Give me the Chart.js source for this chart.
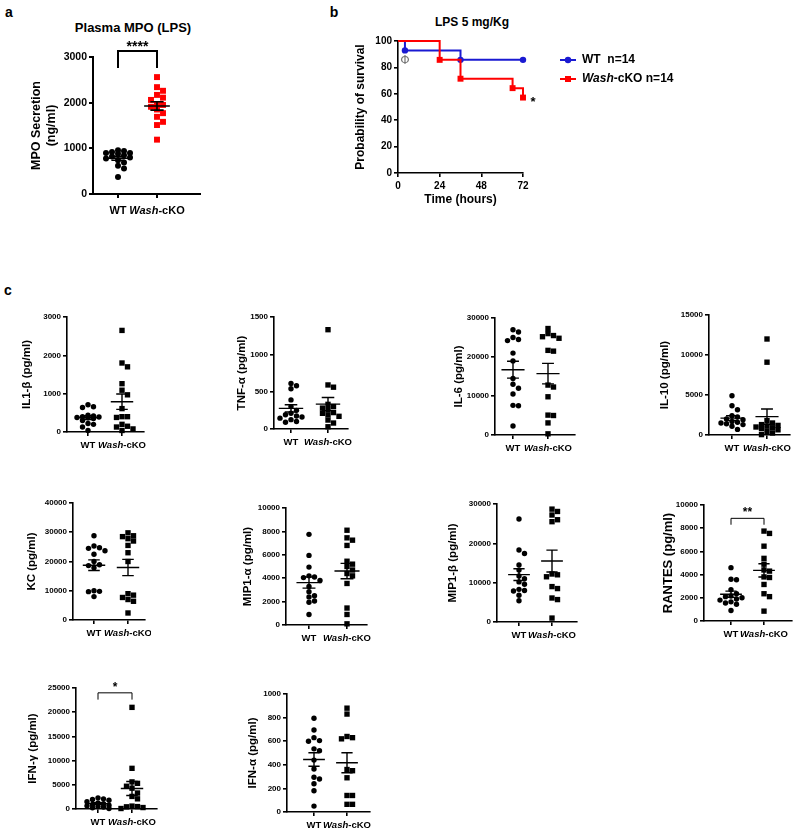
<!DOCTYPE html>
<html>
<head>
<meta charset="utf-8">
<script src="https://cdn.jsdelivr.net/npm/chart.js@4.4.1/dist/chart.umd.min.js"></script>
<style>
  body { margin: 0; background: #fff; width: 798px; height: 829px; position: relative; overflow: hidden;
         font-family: "Liberation Sans", Arial, sans-serif; font-weight: bold; color: #000; }
  canvas { position: absolute; }
  .t { position: absolute; transform: translate(-50%, -50%); white-space: nowrap; }
</style>
</head>
<body>
<div class="t" style="left:9px;top:12px;font-size:14px">a</div>
<div class="t" style="left:334px;top:12px;font-size:14px">b</div>
<div class="t" style="left:8px;top:290px;font-size:14px">c</div>
<div class="t" style="left:133px;top:27px;font-size:13px">Plasma MPO (LPS)</div>
<div class="t" style="left:472px;top:22px;font-size:12px">LPS 5 mg/Kg</div>
<script>
const groups = ['WT', 'Wash-cKO'];

// a - plasma MPO (ng/ml)
const mpoWT = [960, 940, 920, 900, 900, 880, 850, 820, 800, 780, 740, 690, 620, 560, 370];
const mpoKO = [2560, 2340, 2260, 2170, 2110, 2060, 1970, 1950, 1910, 1850, 1770, 1690, 1580, 1510, 1190];

// b - survival after LPS
const timeTicks = [0, 24, 48, 72];
const wtHours = [0, 4, 36, 72];
const wtSurvival = [100, 92.86, 85.71, 85.71];
const koHours = [0, 24, 36, 66, 72];
const koSurvival = [100, 85.71, 71.43, 64.29, 57.14];

// c - cytokines (pg/ml)
const il1bWT = [710, 660, 640, 440, 420, 400, 390, 380, 370, 350, 300, 220, 200, 130, 40];
const il1bKO = [2650, 1800, 1700, 1260, 1090, 970, 610, 400, 400, 380, 200, 150, 130, 80, 40];
const tnfWT = [610, 580, 540, 390, 300, 250, 210, 190, 175, 160, 145, 125, 100, 90];
const tnfKO = [1330, 590, 560, 330, 300, 280, 260, 220, 210, 190, 170, 120, 80, 30];
const il6WT = [27000, 26400, 25000, 24500, 24200, 21000, 19000, 14500, 13000, 12000, 10500, 7600, 7500, 2300];
const il6KO = [27300, 26000, 25500, 25200, 24800, 21700, 21500, 12800, 12300, 9800, 5100, 5000, 3100, 300];
const il10WT = [4900, 3650, 3150, 2400, 2250, 2000, 1900, 1700, 1600, 1500, 1400, 1300, 1100, 700];
const il10KO = [12000, 9100, 1800, 1500, 1300, 1200, 1100, 1000, 900, 800, 650, 450, 250, 50];
const kcWT = [28800, 25300, 24700, 24500, 23700, 22500, 20000, 18900, 18600, 17900, 10000, 9800, 9700, 8000];
const kcKO = [29800, 28800, 28500, 27800, 27000, 25500, 23000, 20000, 9000, 8500, 7700, 7000, 6400, 2400];
const mip1aWT = [7750, 5950, 4950, 4200, 4100, 4050, 3800, 3300, 2850, 2500, 2400, 2050, 1950, 900];
const mip1aKO = [8100, 7450, 7250, 6800, 5450, 5200, 5000, 4700, 4400, 4200, 3550, 1450, 900, 100];
const mip1bWT = [26200, 18300, 17400, 14500, 13200, 11700, 11000, 10200, 9600, 8300, 8000, 7900, 6800, 5400];
const mip1bKO = [28700, 28100, 27200, 26000, 25500, 12200, 12000, 11500, 9000, 8500, 6100, 5700, 1000];
const rantesWT = [4600, 3600, 3550, 2700, 2350, 2150, 2100, 2000, 1900, 1800, 1650, 1550, 1450, 900];
const rantesKO = [7750, 7550, 6450, 5400, 4900, 4400, 4300, 3800, 3750, 3150, 2350, 2100, 850];
const ifngWT = [2300, 2100, 1950, 1800, 1500, 1250, 1100, 950, 800, 650, 500, 400, 250, 100];
const ifngKO = [21000, 8400, 5600, 5300, 4700, 4300, 3300, 2600, 2100, 600, 500, 450, 300, 100];
const ifnaWT = [795, 695, 630, 605, 600, 535, 520, 440, 365, 295, 280, 240, 180, 50];
const ifnaKO = [880, 830, 640, 630, 620, 360, 350, 290, 140, 140, 65, 65];

const FONT = '"Liberation Sans", Arial, sans-serif';
const RED = '#ff0000';
const BLUE = '#1a1ad2';
Chart.defaults.font.family = FONT;

// spread points sideways (dot plot), kept inside a limited band
function swarm(vals, pxPerVal, unitPx, d) {
  const order = vals.map((v, i) => i).sort((a, b) => vals[b] - vals[a]);
  const placed = [];
  const xs = new Array(vals.length).fill(0);
  const maxK = Math.floor(0.4 * unitPx / d);
  order.forEach(i => {
    const y = vals[i] * pxPerVal;
    let best = null, bestGap = -1;
    for (let k = 0; k <= maxK * 2; k++) {
      const off = (k % 2 ? 1 : -1) * Math.ceil(k / 2) * d;
      const gap = placed.reduce((g, p) => Math.min(g, Math.hypot(p.x - off, p.y - y)), Infinity);
      if (gap >= d * 0.9) { best = off; break; }
      if (gap > bestGap) { bestGap = gap; best = off; }
    }
    placed.push({ x: best, y });
    xs[i] = best / unitPx;
  });
  return xs;
}

function stats(v) {
  const n = v.length;
  const m = v.reduce((a, b) => a + b, 0) / n;
  const sd = Math.sqrt(v.reduce((a, b) => a + (b - m) ** 2, 0) / (n - 1));
  return { m, se: sd / Math.sqrt(n) };
}

function drawGroupLabels(ctx, x, yy, fs) {
  const [a, b] = groups[1].split('-');
  ctx.fillStyle = '#000';
  ctx.textBaseline = 'middle';
  ctx.textAlign = 'center';
  ctx.font = `bold ${fs}px ${FONT}`;
  ctx.fillText(groups[0], x.getPixelForValue(0), yy);
  const it = `italic bold ${fs}px ${FONT}`, rg = `bold ${fs}px ${FONT}`;
  ctx.font = it; const w1 = ctx.measureText(a).width;
  ctx.font = rg; const w2 = ctx.measureText('-' + b).width;
  const sx = x.getPixelForValue(1) - (w1 + w2) / 2;
  ctx.textAlign = 'left';
  ctx.font = it; ctx.fillText(a, sx, yy);
  ctx.font = rg; ctx.fillText('-' + b, sx + w1, yy);
}

function dotChart(p) {
  const [ax, top, right, bottom] = p.box;
  const PT = 30, XH = p.xh || 26, YW = ax - p.left, PR = 6;
  const cv = document.createElement('canvas');
  cv.width = right - ax + YW + PR;
  cv.height = bottom - top + PT + XH;
  cv.style.left = p.left + 'px';
  cv.style.top = (top - PT) + 'px';
  document.body.appendChild(cv);

  const unit = p.cols[1] - p.cols[0];
  const xmin = -(p.cols[0] - ax) / unit;
  const xmax = 1 + (right - p.cols[1]) / unit;
  const pxv = (bottom - top) / p.max;
  const d = p.dot || 5.5;
  const jw = swarm(p.wt, pxv, unit, d);
  const jk = swarm(p.ko, pxv, unit, d);
  const lw = p.lw || 1.4;
  const tfs = p.titleSize || 11.5;
  const lh = tfs * 1.2;
  const axisStyle = { color: '#000', width: p.axisW || 1.6 };
  const gridStyle = { drawOnChartArea: false, color: '#000', lineWidth: p.axisW || 1.6, tickLength: 4 };

  new Chart(cv, {
    type: 'scatter',
    data: {
      datasets: [
        { data: p.wt.map((v, i) => ({ x: jw[i], y: v })), pointStyle: 'circle', pointRadius: p.rc || 2.7,
          backgroundColor: p.wtColor || '#000', borderWidth: 0, clip: false },
        { data: p.ko.map((v, i) => ({ x: 1 + jk[i], y: v })), pointStyle: 'rect', pointRadius: p.rs || 3.8,
          backgroundColor: p.koColor || '#000', borderWidth: 0, clip: false }
      ]
    },
    options: {
      responsive: false,
      animation: false,
      layout: { padding: { left: 0, top: PT, right: PR, bottom: 0 } },
      plugins: { legend: { display: false }, tooltip: { enabled: false } },
      scales: {
        x: {
          type: 'linear', min: xmin, max: xmax,
          afterBuildTicks: s => { s.ticks = [{ value: 0 }, { value: 1 }]; },
          ticks: { display: false },
          grid: gridStyle, border: axisStyle,
          afterFit: s => { s.height = XH; }
        },
        y: {
          min: 0, max: p.max,
          ticks: { stepSize: p.step, color: '#000', padding: 2, callback: v => v,
                   font: { size: p.tickSize || 8, weight: 'bold' } },
          grid: gridStyle, border: axisStyle,
          title: { display: true, text: p.title, color: '#000', font: { size: tfs, weight: 'bold', lineHeight: 1.2 },
                   padding: { top: (p.titleX - p.left) - lh / 2, bottom: 0 } },
          afterFit: s => { s.width = YW; }
        }
      }
    },
    plugins: [{
      id: 'extras',
      afterDatasetsDraw(chart) {
        const { ctx, scales: { x, y }, chartArea } = chart;
        ctx.save();
        ctx.strokeStyle = '#000';
        ctx.lineWidth = lw;
        [p.wt, p.ko].forEach((v, g) => {
          const s = stats(v);
          const cx = x.getPixelForValue(g);
          const w1 = x.getPixelForValue(g + 0.33) - cx;
          const w2 = x.getPixelForValue(g + 0.17) - cx;
          const ym = y.getPixelForValue(s.m), yh = y.getPixelForValue(s.m + s.se), yl = y.getPixelForValue(s.m - s.se);
          ctx.beginPath();
          ctx.moveTo(cx - w1, ym); ctx.lineTo(cx + w1, ym);
          ctx.moveTo(cx, yl); ctx.lineTo(cx, yh);
          ctx.moveTo(cx - w2, yh); ctx.lineTo(cx + w2, yh);
          ctx.moveTo(cx - w2, yl); ctx.lineTo(cx + w2, yl);
          ctx.stroke();
        });
        if (p.sig) {
          const x0 = x.getPixelForValue(0), x1 = x.getPixelForValue(1);
          const yb = y.getPixelForValue(p.sig.y), yl = y.getPixelForValue(p.sig.leg);
          ctx.lineWidth = p.sig.lw || 1;
          ctx.beginPath();
          ctx.moveTo(x0, yl); ctx.lineTo(x0, yb); ctx.lineTo(x1, yb); ctx.lineTo(x1, yl);
          ctx.stroke();
          ctx.fillStyle = '#000';
          ctx.font = `bold ${p.sig.size || 13}px ${FONT}`;
          ctx.textAlign = 'center';
          ctx.textBaseline = 'alphabetic';
          ctx.fillText(p.sig.text, (x0 + x1) / 2, yb - 2 + (p.sig.dy || 0));
        }
        drawGroupLabels(ctx, x, chartArea.bottom + (p.labelGap || 13), p.labelSize || 9.5);
        ctx.restore();
      }
    }]
  });
}

// panel a
dotChart({
  title: ['MPO Secretion', '(ng/ml)'], titleX: 37, titleSize: 12.5, left: 20,
  wt: mpoWT, ko: mpoKO, max: 3000, step: 1000, tickSize: 10.5,
  box: [93, 57, 200, 194], cols: [118, 157], xh: 30, labelGap: 17, labelSize: 11,
  koColor: RED, rc: 3, rs: 4.2, dot: 6, axisW: 2, lw: 1.6,
  sig: { text: '****', y: 3130, leg: 2760, lw: 2, size: 14, dy: 2 }
});

// panel c
const cPanels = [
  { title: 'IL1-β (pg/ml)', wt: il1bWT, ko: il1bKO, max: 3000, step: 1000, box: [67, 317, 144, 432], cols: [88, 122], titleX: 27 },
  { title: 'TNF-α (pg/ml)', wt: tnfWT, ko: tnfKO, max: 1500, step: 500, box: [274, 317, 348, 429], cols: [291, 328], titleX: 242 },
  { title: 'IL-6 (pg/ml)', wt: il6WT, ko: il6KO, max: 30000, step: 10000, box: [495, 318, 575, 435], cols: [513, 548], titleX: 459 },
  { title: 'IL-10 (pg/ml)', wt: il10WT, ko: il10KO, max: 15000, step: 5000, box: [709, 315, 790, 435], cols: [732, 767], titleX: 665 },
  { title: 'KC (pg/ml)', wt: kcWT, ko: kcKO, max: 40000, step: 10000, box: [73, 503, 145, 620], cols: [94, 128], titleX: 32 },
  { title: 'MIP1-α (pg/ml)', wt: mip1aWT, ko: mip1aKO, max: 10000, step: 2000, box: [286, 508, 367, 625], cols: [309, 347], titleX: 248 },
  { title: 'MIP1-β (pg/ml)', wt: mip1bWT, ko: mip1bKO, max: 30000, step: 10000, box: [497, 504, 577, 622], cols: [519, 552], titleX: 453 },
  { title: 'RANTES (pg/ml)', wt: rantesWT, ko: rantesKO, max: 10000, step: 2000, box: [704, 505, 792, 621], cols: [731, 764], titleX: 668,
    titleSize: 13, sig: { text: '**', y: 8850, leg: 8300, size: 12 } },
  { title: 'IFN-γ (pg/ml)', wt: ifngWT, ko: ifngKO, max: 25000, step: 5000, box: [76, 688, 157, 809], cols: [98, 132], titleX: 33,
    sig: { text: '*', y: 24000, leg: 22600, size: 12 } },
  { title: 'IFN-α (pg/ml)', wt: ifnaWT, ko: ifnaKO, max: 1000, step: 200, box: [287, 694, 370, 812], cols: [314, 347], titleX: 253 }
];
cPanels.forEach(p => dotChart(Object.assign({ left: p.box[0] - 62 }, p)));

// panel b - survival curves
const cvB = document.createElement('canvas');
cvB.width = 370; cvB.height = 192;
cvB.style.left = '340px'; cvB.style.top = '15px';
document.body.appendChild(cvB);
const axB = { color: '#000', width: 1.6 };
const gridB = { drawOnChartArea: false, color: '#000', lineWidth: 1.6, tickLength: 4 };

new Chart(cvB, {
  type: 'line',
  data: {
    datasets: [
      { label: 'Wash-cKO n=14', data: koHours.map((h, i) => ({ x: h, y: koSurvival[i] })),
        borderColor: RED, backgroundColor: RED, borderWidth: 2, stepped: true, pointStyle: 'rect',
        pointRadius: c => c.dataIndex === 0 ? 0 : 4.2, pointBorderWidth: 0, clip: false },
      { label: 'WT  n=14', data: wtHours.map((h, i) => ({ x: h, y: wtSurvival[i] })),
        borderColor: BLUE, backgroundColor: BLUE, borderWidth: 2, stepped: true, pointStyle: 'circle',
        pointRadius: c => c.dataIndex === 0 ? 0 : 3.2, pointBorderWidth: 0, clip: false }
    ]
  },
  options: {
    responsive: false,
    animation: false,
    layout: { padding: { left: 0, top: 26, right: 187, bottom: 0 } },
    plugins: { legend: { display: false }, tooltip: { enabled: false } },
    scales: {
      x: {
        type: 'linear', min: 0, max: 72,
        afterBuildTicks: s => { s.ticks = timeTicks.map(v => ({ value: v })); },
        ticks: { color: '#000', padding: 3, font: { size: 10, weight: 'bold' }, maxRotation: 0 },
        grid: gridB, border: axB,
        title: { display: true, text: 'Time (hours)', color: '#000', font: { size: 12, weight: 'bold', lineHeight: 1.2 },
                 padding: { top: 0, bottom: 0 } },
        afterFit: s => { s.height = 34; }
      },
      y: {
        min: 0, max: 100,
        ticks: { stepSize: 20, color: '#000', padding: 2, font: { size: 10, weight: 'bold' } },
        grid: gridB, border: axB,
        title: { display: true, text: 'Probability of survival', color: '#000',
                 font: { size: 12, weight: 'bold', lineHeight: 1.2 }, padding: { top: 13.8, bottom: 0 } },
        afterFit: s => { s.width = 58; }
      }
    }
  },
  plugins: [{
    id: 'survExtras',
    afterDraw(chart) {
      const { ctx, scales: { x, y } } = chart;
      ctx.save();
      ctx.fillStyle = '#777';
      ctx.font = `12px "DejaVu Sans", ${FONT}`;
      ctx.textAlign = 'center'; ctx.textBaseline = 'middle';
      ctx.fillText('Φ', x.getPixelForValue(wtHours[1]), y.getPixelForValue(84.8));
      ctx.fillStyle = '#000';
      ctx.font = `bold 13px ${FONT}`;
      ctx.fillText('*', x.getPixelForValue(72) + 10, y.getPixelForValue(56) + 3);
      // legend
      const rows = [
        { c: BLUE, shape: 'circle', y: 45, parts: [['WT  n=14', 'bold']] },
        { c: RED, shape: 'rect', y: 64, parts: [['Wash', 'italic bold'], ['-cKO n=14', 'bold']] }
      ];
      rows.forEach(r => {
        ctx.strokeStyle = r.c; ctx.fillStyle = r.c; ctx.lineWidth = 2;
        ctx.beginPath(); ctx.moveTo(220, r.y); ctx.lineTo(236, r.y); ctx.stroke();
        ctx.beginPath();
        if (r.shape === 'circle') ctx.arc(228, r.y, 3.2, 0, Math.PI * 2);
        else ctx.rect(225, r.y - 3, 6, 6);
        ctx.fill();
        ctx.fillStyle = '#000'; ctx.textAlign = 'left';
        let sx = 242;
        r.parts.forEach(([txt, st]) => {
          ctx.font = `${st} 12px ${FONT}`;
          ctx.fillText(txt, sx, r.y);
          sx += ctx.measureText(txt).width;
        });
      });
      ctx.restore();
    }
  }]
});
</script>
</body>
</html>
